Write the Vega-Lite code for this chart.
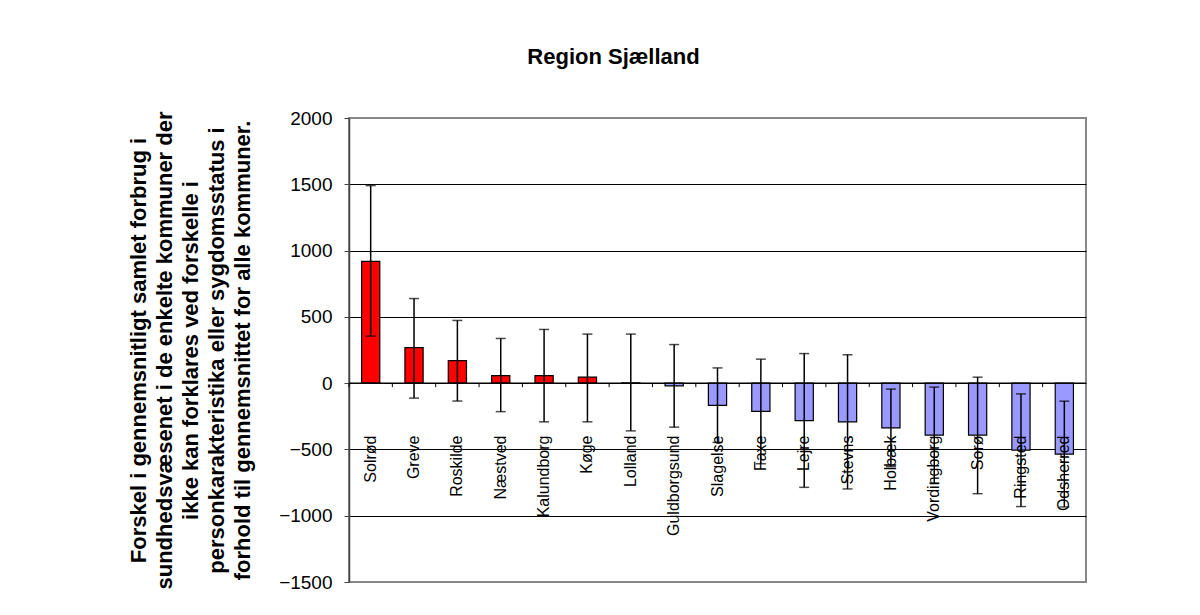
{
  "$schema": "https://vega.github.io/schema/vega-lite/v6.json",
  "width": 737,
  "height": 464,
  "autosize": {"type": "none"},
  "padding": {"left": 349, "top": 118, "right": 114, "bottom": 33},
  "background": "white",
  "title": {
    "text": "Region Sjælland",
    "font": "Liberation Sans",
    "fontSize": 22,
    "fontWeight": "bold",
    "color": "black",
    "anchor": "middle",
    "frame": "group",
    "dx": -104,
    "offset": 23,
    "baseline": "alphabetic"
  },
  "config": {
    "view": {"stroke": "#888888", "strokeWidth": 2},
    "axisY": {
      "grid": true,
      "gridWidth": 1,
      "gridOpacity": 1,
      "domainColor": "#444444",
      "domainWidth": 1.5,
      "tickColor": "#444444",
      "tickSize": 5,
      "tickWidth": 1,
      "labelFont": "Liberation Sans",
      "labelFontSize": 19,
      "labelColor": "black",
      "labelPadding": 12,
      "titleFont": "Liberation Sans",
      "titleFontSize": 22,
      "titleFontWeight": "bold",
      "titleColor": "black",
      "titleAngle": -90,
      "titleX": -211,
      "titleY": 232,
      "titleAlign": "center",
      "titleBaseline": "middle",
      "titleLineHeight": 26,
      "titleLimit": 0,
      "zindex": 0
    },
    "axisX": {
      "zindex": 1
    }
  },
  "data": {
    "values": [
      {"kommune": "Solrød", "value": 918, "lo": 355, "hi": 1490},
      {"kommune": "Greve", "value": 268, "lo": -113, "hi": 638},
      {"kommune": "Roskilde", "value": 170, "lo": -135, "hi": 473},
      {"kommune": "Næstved", "value": 57, "lo": -215, "hi": 337},
      {"kommune": "Kalundborg", "value": 57, "lo": -292, "hi": 405},
      {"kommune": "Køge", "value": 45, "lo": -292, "hi": 370},
      {"kommune": "Lolland", "value": 2, "lo": -360, "hi": 370},
      {"kommune": "Guldborgsund", "value": -20, "lo": -332, "hi": 291},
      {"kommune": "Slagelse", "value": -167, "lo": -447, "hi": 115},
      {"kommune": "Faxe", "value": -213, "lo": -608, "hi": 181},
      {"kommune": "Lejre", "value": -282, "lo": -786, "hi": 223},
      {"kommune": "Stevns", "value": -292, "lo": -798, "hi": 214},
      {"kommune": "Holbæk", "value": -337, "lo": -629, "hi": -45},
      {"kommune": "Vordingborg", "value": -392, "lo": -754, "hi": -30},
      {"kommune": "Sorø", "value": -392, "lo": -834, "hi": 45},
      {"kommune": "Ringsted", "value": -505, "lo": -931, "hi": -81},
      {"kommune": "Odsherred", "value": -535, "lo": -934, "hi": -136}
    ]
  },
  "layer": [
    {
      "mark": {"type": "bar", "width": {"band": 0.42}, "stroke": "black", "strokeWidth": 1.2},
      "encoding": {
        "x": {
          "field": "kommune",
          "type": "nominal",
          "sort": null,
          "scale": {"paddingInner": 0, "paddingOuter": 0},
          "axis": {
            "title": null,
            "orient": "bottom",
            "offset": -147,
            "labelAngle": -90,
            "labelPadding": 0,
            "ticks": false,
            "domain": false,
            "grid": false,
            "labelFont": "Liberation Sans",
            "labelFontSize": 16,
            "labelColor": "black",
            "labelOverlap": false,
            "labelBound": false,
            "labelFlush": false,
            "labelLimit": 300,
            "zindex": 1
          }
        },
        "y": {
          "field": "value",
          "type": "quantitative",
          "scale": {"domain": [-1500, 2000], "nice": false, "zero": false},
          "axis": {
            "values": [-1500, -1000, -500, 0, 500, 1000, 1500, 2000],
            "format": "d",
            "gridColor": {"condition": {"test": "datum.value == 2000 || datum.value == -1500", "value": "#888888"}, "value": "black"},
            "title": [
              "Forskel i gennemsnitligt samlet forbrug i",
              "sundhedsvæsenet i de enkelte kommuner der",
              "ikke kan forklares ved forskelle i",
              "personkarakteristika eller sygdomsstatus i",
              "forhold til gennemsnittet for alle kommuner."
            ]
          }
        },
        "color": {
          "condition": {"test": "datum.value >= 0", "value": "#FF0000"},
          "value": "#9999FF"
        }
      }
    },
    {
      "data": {"values": [{"value": 0}]},
      "mark": {"type": "rule", "color": "black", "strokeWidth": 1.2},
      "encoding": {
        "y": {"field": "value", "type": "quantitative"}
      }
    },
    {
      "mark": {"type": "rule", "color": "black", "strokeWidth": 1},
      "encoding": {
        "x": {"field": "kommune", "type": "nominal", "sort": null, "bandPosition": 0},
        "y": {"datum": 0, "type": "quantitative"},
        "y2": {"datum": -30}
      }
    },
    {
      "mark": {"type": "rule", "color": "black", "strokeWidth": 1.5},
      "encoding": {
        "x": {"field": "kommune", "type": "nominal", "sort": null},
        "y": {"field": "lo", "type": "quantitative"},
        "y2": {"field": "hi"}
      }
    },
    {
      "mark": {"type": "tick", "color": "black", "size": 10, "thickness": 1.5, "orient": "horizontal"},
      "encoding": {
        "x": {"field": "kommune", "type": "nominal", "sort": null},
        "y": {"field": "lo", "type": "quantitative"}
      }
    },
    {
      "mark": {"type": "tick", "color": "black", "size": 10, "thickness": 1.5, "orient": "horizontal"},
      "encoding": {
        "x": {"field": "kommune", "type": "nominal", "sort": null},
        "y": {"field": "hi", "type": "quantitative"}
      }
    }
  ]
}
